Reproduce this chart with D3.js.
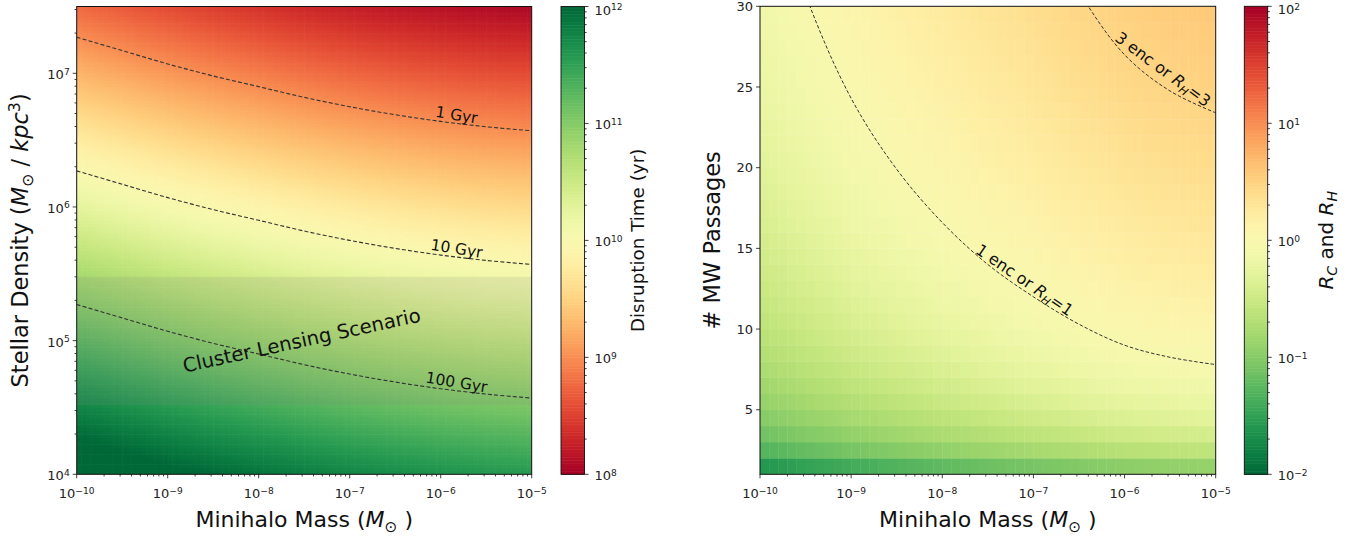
<!DOCTYPE html>
<html><head><meta charset="utf-8">
<script src="https://cdn.jsdelivr.net/npm/d3@7"></script>
<style>body{margin:0;background:#fff;} svg{display:block;font-family:"DejaVu Sans",sans-serif;}</style>
</head><body><svg id="c" width="1364" height="537"></svg>
<script>
// ---------------- data ----------------
const massTickExps = [-10, -9, -8, -7, -6, -5];
const densityTickExps = [4, 5, 6, 7];
const densityRange = [1e4, 3.16e7];
const massRange = [1e-10, 1e-5];
const passageTicks = [5, 10, 15, 20, 25, 30];
const passageRange = [1, 30];
const timeCbarExps = [8, 9, 10, 11, 12];
const ratioCbarExps = [-2, -1, 0, 1, 2];

// log10 minihalo mass grid where the contours were read
const gridLogMass = [-10, -9.5, -9, -8.5, -8, -7.5, -7, -6.5, -6, -5.5, -5];
// log10 stellar density where disruption time = 1 Gyr (each decade of density = decade of time)
const logDensity1Gyr = [7.27, 7.17, 7.07, 6.98, 6.90, 6.82, 6.75, 6.69, 6.64, 6.60, 6.57];
const contourTimes = [1e9, 1e10, 1e11];
const contourTimeLabels = ["1 Gyr", "10 Gyr", "100 Gyr"];
const clusterBand = [3.3e4, 3.0e5];
const clusterText = "Cluster Lensing Scenario";

// number of MW passages where R = 1 (R grows linearly with passages)
const passagesAtR1 = [39.5, 30.7, 24.3, 19.9, 16.6, 14.0, 12.0, 10.3, 9.0, 8.25, 7.8];
const passageRows = [1,2,3,4,5,6,7,8,9,10,11,12,13,14,15,16,17,18,19,20,21,22,23,24,25,26,27,28,29,30];
const ratioLevels = [1, 3];
const ratioLabelNums = ["1", "3"];

// ---------------- layout ----------------
const svg = d3.select("#c");
const L = {x0: 76.7, x1: 531.7, y0: 6.5, y1: 474.3};
const LC = {x0: 561, x1: 584.5};
const R = {x0: 760, x1: 1215.7, y0: 6.3, y1: 474.3};
const RC = {x0: 1244.3, x1: 1267.7};
const TICKFS = 13;

const xL = d3.scaleLog().domain(massRange).range([L.x0, L.x1]);
const yL = d3.scaleLog().domain(densityRange).range([L.y1, L.y0]);
const xR = d3.scaleLog().domain(massRange).range([R.x0, R.x1]);
const yR = d3.scaleLinear().domain(passageRange).range([R.y1, R.y0]);
const colorT = d3.scaleSequentialLog(d3.interpolateRdYlGn).domain([1e8, 1e12]).clamp(true);
const colorR = d3.scaleSequentialLog(t => d3.interpolateRdYlGn(1 - t)).domain([1e-2, 1e2]).clamp(true);
const rho1Of = d3.scaleLinear().domain(gridLogMass).range(logDensity1Gyr);
const n1Of = d3.scaleLinear().domain(gridLogMass).range(passagesAtR1);

const defs = svg.append("defs");
defs.append("clipPath").attr("id","clipL").append("rect")
  .attr("x",L.x0).attr("y",L.y0).attr("width",L.x1-L.x0).attr("height",L.y1-L.y0);
defs.append("clipPath").attr("id","clipR").append("rect")
  .attr("x",R.x0).attr("y",R.y0).attr("width",R.x1-R.x0).attr("height",R.y1-R.y0);

// ---------------- left heatmap ----------------
const gL = svg.append("g").attr("clip-path","url(#clipL)");
const lmStep = 0.05, lrStep = 0.025;
const lmCols = d3.range(100).map(i => -10 + i*lmStep);
const lrRows = d3.range(140).map(i => 4 + i*lrStep);
const cellsL = [];
lmCols.forEach(lm => lrRows.forEach(lr => {
  const c = lm + lmStep/2, r = lr + lrStep/2;
  cellsL.push({lm, lr, v: 1e9 * Math.pow(10, rho1Of(c) - r)});
}));
gL.selectAll("rect.c").data(cellsL).join("rect")
  .attr("x", d => xL(Math.pow(10,d.lm)))
  .attr("y", d => yL(Math.pow(10,d.lr+lrStep)))
  .attr("width", d => xL(Math.pow(10,d.lm+lmStep)) - xL(Math.pow(10,d.lm)) + 0.6)
  .attr("height", d => yL(Math.pow(10,d.lr)) - yL(Math.pow(10,d.lr+lrStep)) + 0.6)
  .attr("fill", d => colorT(d.v));
// cluster band
gL.append("rect").attr("x",L.x0).attr("width",L.x1-L.x0)
  .attr("y", yL(clusterBand[1])).attr("height", yL(clusterBand[0]) - yL(clusterBand[1]))
  .attr("fill","#808080").attr("fill-opacity",0.15);
// contours
const lineL = d3.line().x(d => xL(Math.pow(10,d[0]))).y(d => yL(Math.pow(10,d[1]))).curve(d3.curveCatmullRom.alpha(0.5));
contourTimes.forEach((t, k) => {
  const off = Math.log10(t/1e9);
  const pts = gridLogMass.map((m,i) => [m, logDensity1Gyr[i] - off]);
  gL.append("path").attr("d", lineL(pts)).attr("fill","none")
    .attr("stroke","#333").attr("stroke-width",1.1).attr("stroke-dasharray","4,2.2");
  const lm = -5.84;
  const px = xL(Math.pow(10,lm)), py = yL(Math.pow(10, rho1Of(lm)-off));
  const px2 = xL(Math.pow(10,lm+0.3)), py2 = yL(Math.pow(10, rho1Of(lm+0.3)-off));
  const pxa = xL(Math.pow(10,lm-0.3)), pya = yL(Math.pow(10, rho1Of(lm-0.3)-off));
  const ang = Math.atan2(py2-pya, px2-pxa) * 180/Math.PI + 2;
  svg.append("text").attr("transform",`translate(${px},${py}) rotate(${ang})`)
    .attr("dy", -3).attr("text-anchor","middle").attr("font-size",15.5).attr("fill","#111")
    .text(contourTimeLabels[k]);
});
svg.append("text").attr("transform",`translate(303,347) rotate(-12.2)`)
  .attr("text-anchor","middle").attr("font-size",19.6).attr("fill","#111").text(clusterText);

// ---------------- right heatmap ----------------
const gR = svg.append("g").attr("clip-path","url(#clipR)");
const rmStep = 0.1;
const rmCols = d3.range(50).map(i => -10 + i*rmStep);
const cellsR = [];
rmCols.forEach(lm => passageRows.slice(0, -1).forEach((n, i) => {
  cellsR.push({lm, n0: n, n1: passageRows[i+1], v: n / n1Of(lm + rmStep/2)});
}));
gR.selectAll("rect.c").data(cellsR).join("rect")
  .attr("x", d => xR(Math.pow(10,d.lm)))
  .attr("y", d => yR(d.n1))
  .attr("width", d => xR(Math.pow(10,d.lm+rmStep)) - xR(Math.pow(10,d.lm)) + 0.4)
  .attr("height", d => yR(d.n0) - yR(d.n1) + 0.4)
  .attr("fill", d => colorR(d.v));
const lineR = d3.line().x(d => xR(Math.pow(10,d[0]))).y(d => yR(d[1])).curve(d3.curveCatmullRom.alpha(0.5));
const ratioLabelAt = [-7.15, -5.66];
const ratioLabelDy = [-3, -7];
ratioLevels.forEach((lev, k) => {
  const pts = gridLogMass.map((m,i) => [m, lev * passagesAtR1[i]]);
  gR.append("path").attr("d", lineR(pts)).attr("fill","none")
    .attr("stroke","#333").attr("stroke-width",1).attr("stroke-dasharray","3.5,2");
  const lm = ratioLabelAt[k];
  const px = xR(Math.pow(10,lm)), py = yR(lev*n1Of(lm));
  const px2 = xR(Math.pow(10,lm+0.25)), py2 = yR(lev*n1Of(lm+0.25));
  const pxa = xR(Math.pow(10,lm-0.25)), pya = yR(lev*n1Of(lm-0.25));
  const ang = Math.atan2(py2-pya, px2-pxa) * 180/Math.PI;
  const t = svg.append("text").attr("transform",`translate(${px},${py}) rotate(${ang})`)
    .attr("dy", ratioLabelDy[k]).attr("text-anchor","middle").attr("font-size",16).attr("fill","#111");
  t.append("tspan").text(ratioLabelNums[k] + " enc or ");
  t.append("tspan").attr("font-style","italic").text("R");
  t.append("tspan").attr("font-size","0.7em").attr("dy","0.3em").attr("font-style","italic").text("H");
  t.append("tspan").attr("dy","-0.21em").text("=" + ratioLabelNums[k]);
});

// ---------------- frames ----------------
[[L.x0,L.y0,L.x1,L.y1],[R.x0,R.y0,R.x1,R.y1]].forEach(b =>
  svg.append("rect").attr("x",b[0]).attr("y",b[1]).attr("width",b[2]-b[0]).attr("height",b[3]-b[1])
    .attr("fill","none").attr("stroke","#111").attr("stroke-width",1));

// ---------------- helpers ----------------
function powText(sel, e) {
  sel.append("tspan").text("10");
  sel.append("tspan").attr("font-size","0.7em").attr("dy","-0.5em").text(e < 0 ? "\u2212" + (-e) : String(e));
}
function minorLogs(e0, e1) {
  const out = [];
  for (let e = e0; e < e1; e++) for (let m = 2; m <= 9; m++) out.push(m * Math.pow(10, e));
  return out;
}
function xLogAxis(xs, y) {
  const g = svg.append("g").attr("stroke","#111").attr("stroke-width",0.8);
  massTickExps.forEach(e => {
    const x = xs(Math.pow(10,e));
    g.append("line").attr("x1",x).attr("x2",x).attr("y1",y).attr("y2",y+4);
    const t = svg.append("text").attr("x",x).attr("y",y+24).attr("text-anchor","middle")
      .attr("font-size",TICKFS).attr("fill","#222");
    powText(t, e);
  });
  minorLogs(-10,-5).forEach(v => {
    const x = xs(v);
    g.append("line").attr("x1",x).attr("x2",x).attr("y1",y).attr("y2",y+2.2);
  });
}
xLogAxis(xL, L.y1);
xLogAxis(xR, R.y1);

// left y axis
(function(){
  const g = svg.append("g").attr("stroke","#111").attr("stroke-width",0.8);
  densityTickExps.forEach(e => {
    const y = yL(Math.pow(10,e));
    g.append("line").attr("x1",L.x0-4).attr("x2",L.x0).attr("y1",y).attr("y2",y);
    const t = svg.append("text").attr("x",L.x0-7).attr("y",y+6).attr("text-anchor","end")
      .attr("font-size",TICKFS).attr("fill","#222");
    powText(t, e);
  });
  minorLogs(4,8).filter(v => v <= densityRange[1]).forEach(v => {
    const y = yL(v);
    g.append("line").attr("x1",L.x0-2.2).attr("x2",L.x0).attr("y1",y).attr("y2",y);
  });
})();
// right y axis
(function(){
  const g = svg.append("g").attr("stroke","#111").attr("stroke-width",0.8);
  passageTicks.forEach(n => {
    const y = yR(n);
    g.append("line").attr("x1",R.x0-4).attr("x2",R.x0).attr("y1",y).attr("y2",y);
    svg.append("text").attr("x",R.x0-7).attr("y",y+4.6).attr("text-anchor","end")
      .attr("font-size",TICKFS).attr("fill","#222").text(n);
  });
})();

// ---------------- colorbars ----------------
function colorbar(cb, y0, y1, exps, color) {
  const ys = d3.scaleLog().domain([Math.pow(10,exps[0]), Math.pow(10,exps[exps.length-1])]).range([y1, y0]);
  const n = 300;
  const steps = d3.range(n).map(i => exps[0] + (exps[exps.length-1]-exps[0]) * i / n);
  const dl = (exps[exps.length-1]-exps[0]) / n;
  svg.append("g").selectAll("rect").data(steps).join("rect")
    .attr("x", cb.x0).attr("width", cb.x1 - cb.x0)
    .attr("y", d => ys(Math.pow(10, d + dl)))
    .attr("height", d => ys(Math.pow(10,d)) - ys(Math.pow(10,d+dl)) + 0.5)
    .attr("fill", d => color(Math.pow(10, d + dl/2)));
  svg.append("rect").attr("x",cb.x0).attr("y",y0).attr("width",cb.x1-cb.x0).attr("height",y1-y0)
    .attr("fill","none").attr("stroke","#111").attr("stroke-width",0.9);
  const g = svg.append("g").attr("stroke","#111").attr("stroke-width",0.8);
  exps.forEach((e, i) => {
    const y = ys(Math.pow(10,e));
    g.append("line").attr("x1",cb.x1).attr("x2",cb.x1+4).attr("y1",y).attr("y2",y);
    const t = svg.append("text").attr("x",cb.x1+10).attr("y",y + (i === exps.length-1 ? 8 : 6))
      .attr("font-size",TICKFS).attr("fill","#222");
    powText(t, e);
  });
  minorLogs(exps[0], exps[exps.length-1]).forEach(v => {
    const y = ys(v);
    g.append("line").attr("x1",cb.x1).attr("x2",cb.x1+2.2).attr("y1",y).attr("y2",y);
  });
}
colorbar(LC, L.y0, L.y1, timeCbarExps, colorT);
colorbar(RC, R.y0, R.y1, ratioCbarExps, colorR);

// ---------------- axis titles ----------------
function msun(t) {
  t.append("tspan").attr("font-style","italic").text("M");
  t.append("tspan").attr("font-size","0.7em").attr("dy","0.3em").text("\u2299");
  t.append("tspan").attr("dy","-0.21em").text(" )");
}
let t1 = svg.append("text").attr("x",(L.x0+L.x1)/2).attr("y",527).attr("text-anchor","middle").attr("font-size",22).attr("fill","#111");
t1.append("tspan").text("Minihalo Mass ("); msun(t1);
let t2 = svg.append("text").attr("x",(R.x0+R.x1)/2).attr("y",527).attr("text-anchor","middle").attr("font-size",22).attr("fill","#111");
t2.append("tspan").text("Minihalo Mass ("); msun(t2);

let t3 = svg.append("text").attr("transform",`translate(28,${(L.y0+L.y1)/2}) rotate(-90)`).attr("text-anchor","middle").attr("font-size",22.5).attr("fill","#111");
t3.append("tspan").text("Stellar Density (");
t3.append("tspan").attr("font-style","italic").text("M");
t3.append("tspan").attr("font-size","0.7em").attr("dy","0.3em").text("\u2299");
t3.append("tspan").attr("dy","-0.21em").text("  / ");
t3.append("tspan").attr("font-style","italic").text("kpc");
t3.append("tspan").attr("font-size","0.7em").attr("dy","-0.5em").text("3");
t3.append("tspan").attr("dy","0.35em").text(")");

svg.append("text").attr("transform",`translate(720,${(R.y0+R.y1)/2}) rotate(-90)`).attr("text-anchor","middle")
  .attr("font-size",22.5).attr("fill","#111").text("# MW Passages");

svg.append("text").attr("transform",`translate(644,${(L.y0+L.y1)/2}) rotate(-90)`).attr("text-anchor","middle")
  .attr("font-size",18.3).attr("fill","#111").text("Disruption Time (yr)");

let t4 = svg.append("text").attr("transform",`translate(1333,${(R.y0+R.y1)/2}) rotate(-90)`).attr("text-anchor","middle").attr("font-size",20).attr("fill","#111");
t4.append("tspan").attr("font-style","italic").text("R");
t4.append("tspan").attr("font-size","0.7em").attr("dy","0.3em").attr("font-style","italic").text("C");
t4.append("tspan").attr("dy","-0.21em").text(" and ");
t4.append("tspan").attr("font-style","italic").text("R");
t4.append("tspan").attr("font-size","0.7em").attr("dy","0.3em").attr("font-style","italic").text("H");
</script></body></html>
